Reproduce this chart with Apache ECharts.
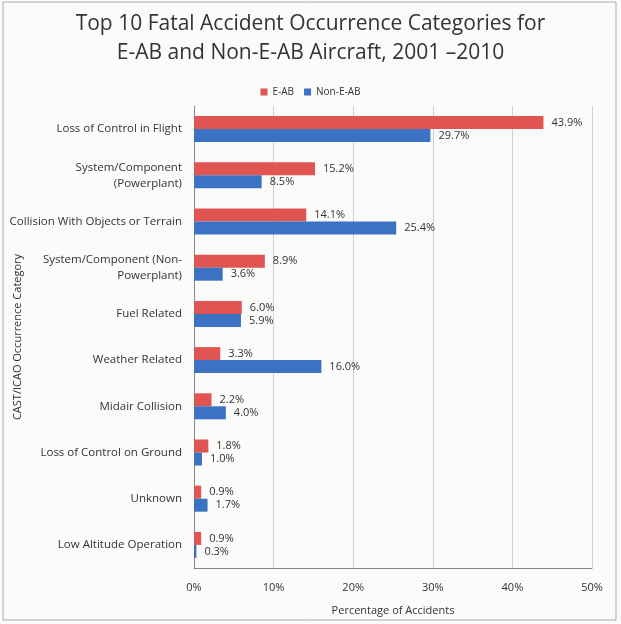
<!DOCTYPE html>
<html><head><meta charset="utf-8">
<script src="https://cdn.jsdelivr.net/npm/echarts@6/dist/echarts.min.js"></script>
<style>html,body{margin:0;padding:0;background:#fbfbfa}#c{width:621px;height:624px}</style>
</head><body><div id="c"></div>
<script>
const categories = ['Loss of Control in Flight','System/Component\n(Powerplant)','Collision With Objects or Terrain','System/Component (Non-\nPowerplant)','Fuel Related','Weather Related','Midair Collision','Loss of Control on Ground','Unknown','Low Altitude Operation'];
const eab = [43.9, 15.2, 14.1, 8.9, 6.0, 3.3, 2.2, 1.8, 0.9, 0.9];
const nonEab = [29.7, 8.5, 25.4, 3.6, 5.9, 16.0, 4.0, 1.0, 1.7, 0.3];
const xTicks = [0, 10, 20, 30, 40, 50];
const font = '"Open Sans", sans-serif';
const chart = echarts.init(document.getElementById('c'));
const lbl = {show:true, position:'right', distance:8, color:'#333', fontSize:11, fontFamily:font, formatter: p => p.value.toFixed(1)+'%'};
chart.setOption({
  backgroundColor:'#fbfbfa',
  animation:false,
  title:{text:'Top 10 Fatal Accident Occurrence Categories for\nE-AB and Non-E-AB Aircraft, 2001 \u20132010', left:'center', top:5,
    textStyle:{fontFamily:font, fontWeight:'normal', fontSize:21, color:'#333', lineHeight:29}},
  legend:{top:82, left:'center', itemWidth:7, itemHeight:7, itemGap:10, icon:'rect',
    textStyle:{fontFamily:font, fontSize:10, color:'#333'}, data:['E-AB','Non-E-AB']},
  grid:{left:194, right:29, top:106, bottom:56, outerBoundsMode:'none', containLabel:false},
  xAxis:{type:'value', min:0, max:50, interval:10, name:'Percentage of Accidents', nameLocation:'middle', nameGap:37,
    nameMoveOverlap:false,
    nameTextStyle:{fontFamily:font, fontSize:11, color:'#333'},
    axisLine:{show:true, lineStyle:{color:'#888'}}, axisTick:{show:false},
    axisLabel:{fontFamily:font, fontSize:11, color:'#333', margin:14, formatter: v => xTicks.includes(v) ? v+'%' : ''},
    splitLine:{show:true, lineStyle:{color:'#cfcfcf'}}},
  yAxis:{type:'category', inverse:true, data:categories, name:'CAST/ICAO Occurrence Category', nameLocation:'middle', nameGap:171, nameRotate:90,
    nameMoveOverlap:false,
    nameTextStyle:{fontFamily:font, fontSize:11, color:'#333'},
    axisLine:{show:true, lineStyle:{color:'#888'}}, axisTick:{show:false},
    axisLabel:{fontFamily:font, fontSize:11.5, color:'#333', margin:12, lineHeight:16, align:'right'}},
  series:[
    {name:'E-AB', type:'bar', data:eab, barWidth:13, barGap:'0%', itemStyle:{color:'#e05552'}, label:lbl},
    {name:'Non-E-AB', type:'bar', data:nonEab, barWidth:13, barGap:'0%', itemStyle:{color:'#3b72c4'}, label:lbl}
  ],
  graphic:[{type:'rect', shape:{x:3,y:2,width:613,height:618}, style:{fill:'none', stroke:'#aaa', lineWidth:1}, silent:true}]
});
</script></body></html>
